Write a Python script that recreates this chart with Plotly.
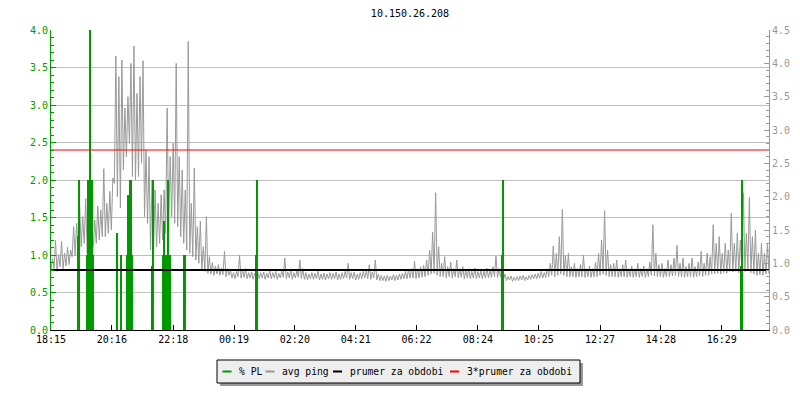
import plotly.graph_objects as go
import pandas as pd

# ---------------- data ----------------
title_text = "10.150.26.208"
x_tick_labels = ["18:15", "20:16", "22:18", "00:19", "02:20", "04:21",
                 "06:22", "08:24", "10:25", "12:27", "14:28", "16:29"]
start_time = "2024-01-01 18:15"
span_minutes = 1428
bin_minutes = 6

# avg ping (ms): low and high value read in each 6-minute bin from 18:15
ping_low_ms = [
    0.90, 0.92, 0.88, 0.95, 0.92, 0.96, 0.98, 1.10, 1.12, 1.20,
    1.25, 1.30, 1.15, 1.20, 1.25, 1.30, 1.35, 1.40, 1.40, 1.45,
    1.50, 2.20, 2.00, 1.83, 2.40, 2.60, 2.80, 2.30, 2.25, 2.30,
    2.50, 1.70, 1.60, 1.20, 1.20, 1.25, 1.30, 1.35, 1.45, 1.50,
    1.70, 1.60, 1.55, 1.40, 1.30, 1.20, 1.15, 1.10, 1.05, 1.00,
    0.90, 0.88, 0.85, 0.84, 0.82, 0.84, 0.82, 0.83, 0.80, 0.82,
    0.78, 0.77, 0.80, 0.78, 0.79, 0.77, 0.78, 0.76, 0.78, 0.77,
    0.78, 0.76, 0.78, 0.77, 0.78, 0.76, 0.78, 0.79, 0.77, 0.78,
    0.76, 0.78, 0.79, 0.77, 0.76, 0.75, 0.77, 0.76, 0.77, 0.75,
    0.76, 0.75, 0.77, 0.76, 0.77, 0.75, 0.76, 0.77, 0.78, 0.76,
    0.77, 0.75, 0.76, 0.77, 0.78, 0.77, 0.76, 0.78, 0.75, 0.74,
    0.74, 0.73, 0.74, 0.75, 0.74, 0.75, 0.76, 0.77, 0.77, 0.78,
    0.78, 0.77, 0.78, 0.79, 0.80, 0.82, 0.84, 0.85, 0.82, 0.80,
    0.80, 0.78, 0.80, 0.78, 0.80, 0.78, 0.79, 0.77, 0.78, 0.77,
    0.78, 0.77, 0.78, 0.77, 0.78, 0.78, 0.79, 0.80, 0.79, 0.80,
    0.76, 0.74, 0.75, 0.73, 0.74, 0.74, 0.75, 0.74, 0.75, 0.76,
    0.77, 0.77, 0.78, 0.78, 0.79, 0.80, 0.82, 0.80, 0.82, 0.84,
    0.82, 0.80, 0.80, 0.80, 0.79, 0.80, 0.80, 0.79, 0.80, 0.79,
    0.80, 0.80, 0.82, 0.84, 0.82, 0.80, 0.80, 0.80, 0.79, 0.80,
    0.80, 0.79, 0.80, 0.79, 0.80, 0.79, 0.80, 0.79, 0.80, 0.82,
    0.81, 0.80, 0.80, 0.79, 0.80, 0.80, 0.81, 0.82, 0.80, 0.80,
    0.79, 0.80, 0.80, 0.79, 0.80, 0.81, 0.80, 0.82, 0.82, 0.84,
    0.84, 0.85, 0.84, 0.86, 0.85, 0.88, 0.87, 0.88, 0.86, 0.90,
    0.88, 0.90, 0.86, 0.84, 0.82, 0.83, 0.82, 0.84, 0.85,
]
ping_high_ms = [
    1.07, 1.35, 1.13, 1.33, 1.15, 1.24, 1.20, 1.55, 1.60, 1.86,
    1.70, 1.97, 1.60, 1.75, 1.65, 1.86, 1.80, 2.42, 1.90, 2.08,
    2.28, 4.11, 3.80, 4.05, 3.33, 3.50, 4.00, 4.26, 3.55, 3.80,
    4.04, 2.70, 2.60, 2.25, 2.10, 1.90, 2.03, 2.10, 3.33, 2.60,
    2.80, 4.00, 2.60, 2.40, 2.10, 4.33, 1.90, 2.43, 1.55, 1.63,
    1.25, 1.70, 1.10, 1.01, 0.96, 0.98, 0.93, 1.18, 0.92, 0.90,
    0.86, 0.88, 1.12, 0.90, 0.92, 0.86, 0.87, 0.85, 0.88, 0.86,
    0.87, 0.85, 0.90, 0.86, 0.88, 0.85, 0.89, 1.08, 0.87, 0.90,
    0.86, 0.89, 1.05, 0.92, 0.86, 0.84, 0.86, 0.85, 0.88, 0.84,
    0.85, 0.84, 0.86, 0.85, 0.87, 0.84, 0.86, 0.88, 1.00, 0.86,
    0.87, 0.84, 0.86, 0.88, 0.90, 0.98, 0.87, 1.05, 0.84, 0.82,
    0.81, 0.82, 0.81, 0.83, 0.82, 0.84, 0.85, 0.88, 0.90, 0.92,
    1.03, 0.92, 0.95, 0.97, 1.05, 1.20, 1.47, 2.06, 1.25, 1.00,
    1.10, 0.95, 1.02, 0.92, 1.05, 0.92, 0.95, 0.90, 0.92, 0.88,
    0.93, 0.88, 0.90, 0.89, 0.93, 0.90, 0.95, 1.11, 0.92, 0.96,
    0.84, 0.80, 0.81, 0.79, 0.80, 0.81, 0.82, 0.80, 0.82, 0.83,
    0.84, 0.85, 0.88, 0.86, 0.92, 1.00, 1.26, 1.15, 1.40, 1.81,
    1.12, 1.15, 0.95, 1.00, 0.92, 0.98, 1.12, 0.92, 0.96, 0.92,
    1.02, 1.15, 1.35, 1.79, 1.20, 0.98, 1.00, 1.05, 0.92, 0.98,
    1.05, 0.92, 0.96, 0.92, 1.00, 0.92, 0.96, 0.92, 1.02, 1.58,
    1.15, 0.98, 1.00, 0.92, 1.05, 0.98, 1.08, 1.27, 1.00, 1.08,
    0.95, 1.00, 1.08, 0.95, 1.02, 1.18, 1.00, 1.15, 1.10, 1.58,
    1.30, 1.40, 1.15, 1.30, 1.20, 1.75, 1.30, 1.45, 1.35, 2.06,
    1.45, 1.99, 1.40, 1.50, 1.15, 1.30, 1.15, 1.30, 1.10,
]

# packet loss events: minutes after 18:15 and % PL
pl_minutes = [54, 56, 71, 73, 75, 77, 79, 81, 83, 131, 139,
              152, 154, 156, 158, 160, 162, 201, 203,
              223, 225, 227, 229, 231, 233, 235, 237, 265, 267,
              407, 409, 897, 899, 1373, 1375]
pl_percent = [1.25, 2.0, 1.0, 2.0, 2.0, 4.0, 2.0, 2.0, 1.0, 1.3, 1.0,
              1.0, 1.8, 1.0, 2.0, 2.0, 1.0, 0.85, 2.0,
              1.0, 1.45, 1.0, 1.0, 1.0, 2.0, 1.0, 1.0, 1.0, 1.0,
              1.0, 2.0, 1.0, 2.0, 0.85, 2.0]

avg_ms = 0.9          # prumer za obdobi
triple_avg_ms = 2.7   # 3*prumer za obdobi

legend_labels = ["% PL", "avg ping", "prumer za obdobi", "3*prumer za obdobi"]

# ---------------- styles ----------------
GREEN = "#009900"
GREY = "#999999"
FONT = "DejaVu Sans Mono"
W, H = 800, 400
PL_L, PL_R, PL_T, PL_B = 51, 769, 30, 330

start = pd.Timestamp(start_time)
end = start + pd.Timedelta(minutes=span_minutes)

# low then high of every bin, in time order
ping_x, ping_y = [], []
for i, (lo, hi) in enumerate(zip(ping_low_ms, ping_high_ms)):
    t0 = start + pd.Timedelta(minutes=bin_minutes * i)
    ping_x += [t0, t0 + pd.Timedelta(minutes=bin_minutes / 2)]
    ping_y += [lo, hi]

pl_x = [start + pd.Timedelta(minutes=m) for m in pl_minutes]

tickvals = []
day = 0
prev = None
for lab in x_tick_labels:
    hh, mm = map(int, lab.split(":"))
    t = pd.Timestamp("2024-01-01") + pd.Timedelta(days=day, hours=hh, minutes=mm)
    if prev is not None and t < prev:
        day += 1
        t += pd.Timedelta(days=1)
    tickvals.append(t)
    prev = t

fig = go.Figure()
fig.add_trace(go.Scatter(x=ping_x, y=ping_y, mode="lines", name=legend_labels[1],
                         line=dict(color=GREY, width=1), yaxis="y"))
fig.add_trace(go.Bar(x=pl_x, y=pl_percent, name=legend_labels[0], width=120000,
                     marker=dict(color=GREEN, line=dict(width=0)), yaxis="y2"))
fig.add_trace(go.Scatter(x=[start, end], y=[avg_ms, avg_ms], mode="lines", name=legend_labels[2],
                         line=dict(color="black", width=2), yaxis="y3"))
fig.add_trace(go.Scatter(x=[start, end], y=[triple_avg_ms, triple_avg_ms], mode="lines",
                         name=legend_labels[3], line=dict(color="red", width=1), yaxis="y3"))


def px_x(p):
    return (p - PL_L) / (PL_R - PL_L)


def px_y(p):
    return (PL_B - p) / (PL_B - PL_T)


shapes = []
annotations = []
# legend box with shadow
bx0, bx1, by0, by1 = 217, 580, 360, 383
shapes.append(dict(type="rect", xref="paper", yref="paper", x0=px_x(bx0 + 3), x1=px_x(bx1 + 3),
                   y0=px_y(by0 + 3), y1=px_y(by1 + 3), fillcolor="#999999", line=dict(width=0),
                   layer="above"))
shapes.append(dict(type="rect", xref="paper", yref="paper", x0=px_x(bx0), x1=px_x(bx1),
                   y0=px_y(by0), y1=px_y(by1), fillcolor="#eeeeee",
                   line=dict(color="black", width=1), layer="above"))
leg_colors = [GREEN, GREY, "black", "red"]
dash_x = [222.5, 265.5, 333, 450]
text_x = [236.5, 280, 348, 465]
ly = 371.5
for c, dx, tx, lab in zip(leg_colors, dash_x, text_x, legend_labels):
    shapes.append(dict(type="line", xref="paper", yref="paper", x0=px_x(dx), x1=px_x(dx + 9),
                       y0=px_y(ly), y1=px_y(ly), line=dict(color=c, width=2), layer="above"))
    annotations.append(dict(text=lab, xref="paper", yref="paper", x=px_x(tx), y=px_y(ly),
                            xanchor="left", yanchor="middle", showarrow=False,
                            font=dict(family=FONT, size=9.7, color="black")))

fig.update_layout(
    width=W, height=H,
    margin=dict(l=PL_L, r=W - PL_R, t=PL_T, b=H - PL_B, autoexpand=False),
    paper_bgcolor="white", plot_bgcolor="white",
    showlegend=False, bargap=0,
    font=dict(family=FONT, size=10, color="black"),
    title=dict(text=title_text, xref="paper", x=0.5, xanchor="center",
               yref="container", y=1 - 13 / H, yanchor="middle", automargin=False,
               font=dict(family=FONT, size=10, color="black")),
    xaxis=dict(type="date", range=[start, end], tickvals=tickvals, ticktext=x_tick_labels,
               ticks="inside", ticklen=5, tickcolor="black", showline=True, linecolor="black",
               linewidth=1, showgrid=False, zeroline=False, automargin=False,
               tickfont=dict(family=FONT, size=10, color="black")),
    yaxis=dict(side="right", range=[0, 4.5], dtick=0.5, tickformat=".1f", ticks="inside",
               ticklen=5, tickcolor=GREY, showline=True, linecolor=GREY, showgrid=False,
               zeroline=False, automargin=False, tickfont=dict(family=FONT, size=10, color=GREY),
               minor=dict(dtick=0.1, ticks="inside", ticklen=3, tickcolor=GREY, showgrid=False)),
    yaxis2=dict(side="left", overlaying="y", range=[0, 4], dtick=0.5, tickformat=".1f",
                ticks="inside", ticklen=5, tickcolor=GREEN, showline=True, linecolor=GREEN,
                showgrid=True, gridcolor="#c0c0c0", gridwidth=1, zeroline=False, automargin=False,
                tickfont=dict(family=FONT, size=10, color=GREEN),
                minor=dict(dtick=0.1, ticks="inside", ticklen=3, tickcolor=GREEN, showgrid=False)),
    yaxis3=dict(overlaying="y", range=[0, 4.5], visible=False),
    shapes=shapes, annotations=annotations,
)

fig.write_html("out.html", config={"displayModeBar": False},
               post_script="document.body.style.margin='0';")
